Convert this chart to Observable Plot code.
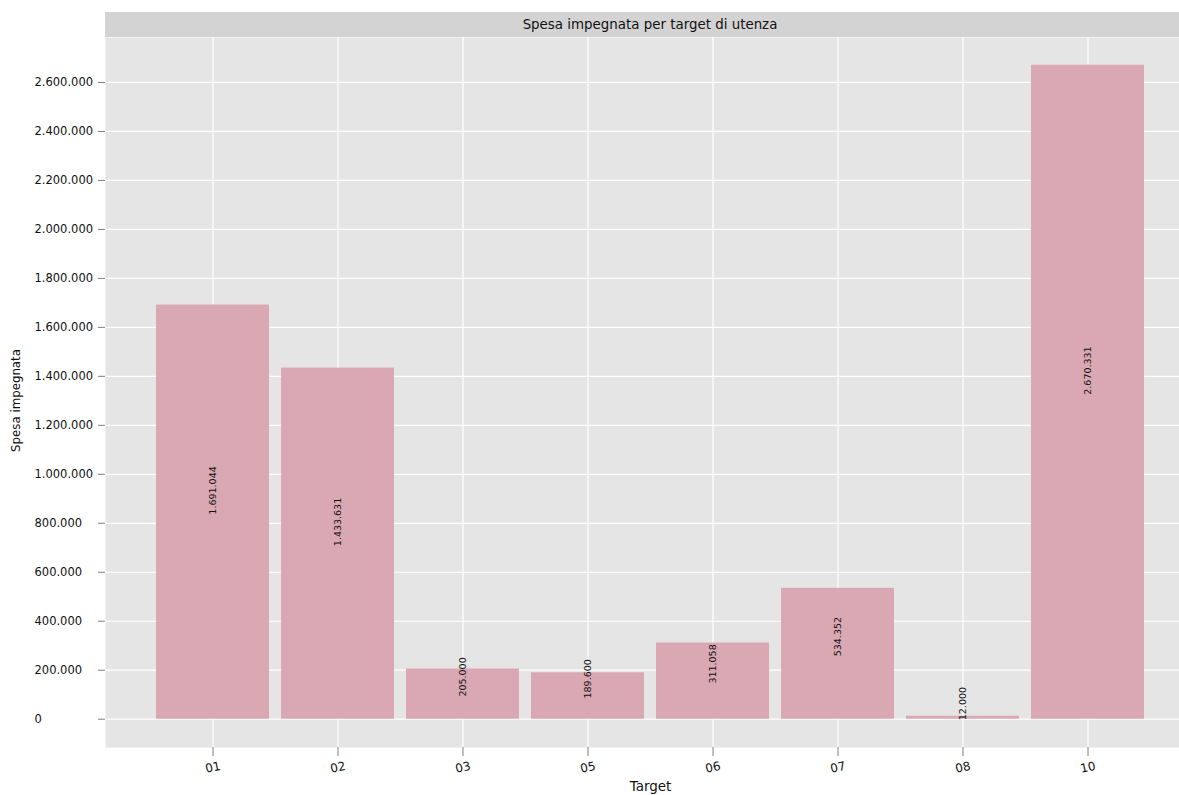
<!DOCTYPE html>
<html>
<head>
<meta charset="utf-8">
<script src="https://cdn.jsdelivr.net/npm/d3@7"></script>
<script src="https://cdn.jsdelivr.net/npm/@observablehq/plot@0.6"></script>
<style>
  html, body { margin: 0; padding: 0; background: #ffffff; overflow: hidden; }
  body { width: 1179px; height: 795px; font-family: "DejaVu Sans", sans-serif; }
  #strip {
    margin-top: 12px; margin-left: 105px; width: 1074px; height: 25px;
    background: #d3d3d3; box-sizing: border-box; padding-left: 16px;
    font-size: 13.4px; line-height: 25px; text-align: center; color: #111;
  }
  #chart svg { display: block; }
</style>
</head>
<body>
<div id="strip">Spesa impegnata per target di utenza</div>
<div id="chart"></div>
<script>
const targets = ["01", "02", "03", "05", "06", "07", "08", "10"];
const spesa = [1691044, 1433631, 205000, 189600, 311058, 534352, 12000, 2670331];
const yTicks = [0, 200000, 400000, 600000, 800000, 1000000, 1200000, 1400000,
                1600000, 1800000, 2000000, 2200000, 2400000, 2600000];
const xTitle = "Target";
const yTitle = "Spesa impegnata";

const data = targets.map((t, i) => ({target: t, value: spesa[i]}));
const itFmt = d3.formatLocale({decimal: ",", thousands: ".", grouping: [3], currency: ["", "€"]}).format(",");

const plot = Plot.plot({
  width: 1179,
  height: 758,
  marginTop: 0,
  marginLeft: 105,
  marginRight: 0,
  marginBottom: 48,
  style: {fontFamily: "DejaVu Sans, sans-serif", fontSize: "12px", background: "transparent"},
  x: {domain: targets, range: [142.4, 1156.5], padding: 0.1, axis: null},
  y: {domain: [-115560, 2783600], axis: null},
  marks: [
    Plot.frame({fill: "#e5e5e5", stroke: null}),
    Plot.gridY(yTicks, {stroke: "#ffffff", strokeOpacity: 1, strokeWidth: 1.2}),
    Plot.gridX(targets, {stroke: "#ffffff", strokeOpacity: 1, strokeWidth: 1.2}),
    Plot.barY(data, {x: "target", y: "value", fill: "#d9a8b3"}),
    Plot.text(data, {x: "target", y: d => d.value / 2, text: d => itFmt(d.value),
      rotate: -90, textAnchor: "start", dy: 2.5, fontSize: 9.5, fill: "#111"}),
    Plot.axisY(yTicks, {tickSize: 7, tickFormat: () => "", stroke: "#7f7f7f", label: null}),
    Plot.text(yTicks, {y: d => d, text: d => itFmt(d), frameAnchor: "left", textAnchor: "start",
      dx: -71, fontSize: 11.5, fill: "#111"}),
    Plot.axisX(targets, {tickSize: 9, tickFormat: () => "", stroke: "#7f7f7f", label: null}),
    Plot.text(targets, {x: d => d, text: d => d, frameAnchor: "bottom", dy: 20, rotate: -12,
      textAnchor: "middle", lineAnchor: "middle", fontSize: 12, fill: "#111"}),
    Plot.text([xTitle], {frameAnchor: "bottom", textAnchor: "middle", lineAnchor: "middle",
      dy: 39, dx: 8, fontSize: 13.5, fill: "#111"}),
    Plot.text([yTitle], {frameAnchor: "left", textAnchor: "middle", lineAnchor: "middle",
      rotate: -90, dx: -89, dy: 8, fontSize: 11.8, fill: "#111"})
  ]
});
document.getElementById("chart").appendChild(plot);
</script>
</body>
</html>
